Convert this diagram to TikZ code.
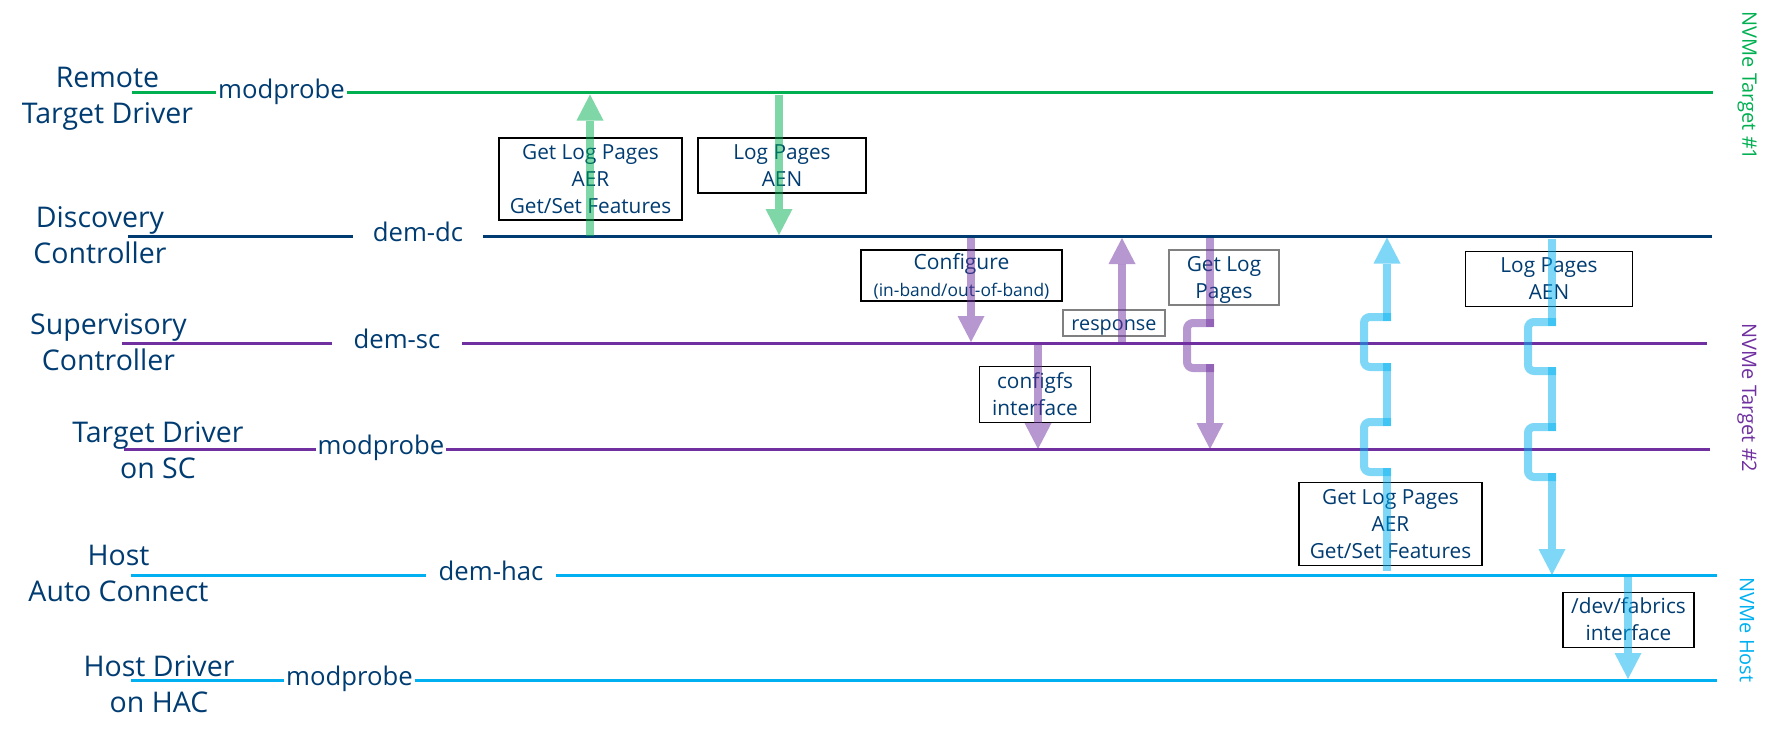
\documentclass[tikz,border=0pt]{standalone}
\usepackage{fontspec}
\setmainfont{Open Sans}
\usetikzlibrary{arrows.meta}
\definecolor{navy}{HTML}{003C71}
\definecolor{tgreen}{HTML}{00B050}
\definecolor{tpurple}{HTML}{7030A0}
\definecolor{tcyan}{HTML}{00B0F0}
\definecolor{boxgray}{HTML}{808080}
\newcommand\vs{\rule[-0.24em]{0pt}{1.2em}}
\begin{document}
\begin{tikzpicture}[x=0.5pt,y=-0.5pt,
  lanename/.style={text=navy, align=center, inner sep=0pt, font=\fontsize{14.25pt}{18pt}\selectfont},
  lanetag/.style={text=navy, inner sep=0pt, minimum width=65pt, anchor=mid, font=\fontsize{12.85pt}{15pt}\selectfont},
  lane/.style={line width=1.5pt},
  msgbox/.style={draw=black, line width=0.7pt, fill=white, text=navy, align=center, inner sep=0pt, font=\fontsize{10.4pt}{13.5pt}\selectfont},
  graybox/.style={msgbox, draw=boxgray},
  flowline/.style={line width=4pt, opacity=0.5, rounded corners=3pt},
  flow/.style={flowline, -{Triangle[width=13.5pt,length=13pt,line width=0pt]}},
  side/.style={rotate=-90, inner sep=0pt, font=\fontsize{10pt}{12pt}\selectfont}
]
\useasboundingbox (0,0) rectangle (1767,739);

% lane names
\node[lanename] (n1) at (107.5,95.5) {\vs Remote\\\vs Target Driver};
\node[lanename] (n2) at (100,235.5) {\vs Discovery\\\vs Controller};
\node[lanename] (n3) at (108.5,342.5) {\vs Supervisory\\\vs Controller};
\node[lanename] (n4) at (158,450.5) {\vs Target Driver\\\vs on SC};
\node[lanename] (n5) at (118.5,573.5) {\vs Host\\\vs Auto Connect};
\node[lanename] (n6) at (159,684.5) {\vs Host Driver\\\vs on HAC};

% lane tags
\node[lanetag] (t1) at (281.5,92.7) {modprobe};
\node[lanetag] (t2) at (418,236) {dem-dc};
\node[lanetag] (t3) at (397,343) {dem-sc};
\node[lanetag] (t4) at (381,449.5) {modprobe};
\node[lanetag] (t5) at (491,575.5) {dem-hac};
\node[lanetag] (t6) at (349.5,680) {modprobe};

% lane end points
\coordinate (l1a) at (132,92.7);   \coordinate (l1b) at (1713,92.7);
\coordinate (l2a) at (128,236);    \coordinate (l2b) at (1712,236);
\coordinate (l3a) at (122,343);    \coordinate (l3b) at (1707,343);
\coordinate (l4a) at (124,449.5);  \coordinate (l4b) at (1710,449.5);
\coordinate (l5a) at (131,575.5);  \coordinate (l5b) at (1717,575.5);
\coordinate (l6a) at (131,680);    \coordinate (l6b) at (1717,680);

\draw[lane, tgreen] (l1a) -- (t1.mid west) (t1.mid east) -- (l1b);
\draw[lane, navy] (l2a) -- (t2.mid west) (t2.mid east) -- (l2b);
\draw[lane, tpurple] (l3a) -- (t3.mid west) (t3.mid east) -- (l3b);
\draw[lane, tpurple] (l4a) -- (t4.mid west) (t4.mid east) -- (l4b);
\draw[lane, tcyan] (l5a) -- (t5.mid west) (t5.mid east) -- (l5b);
\draw[lane, tcyan] (l6a) -- (t6.mid west) (t6.mid east) -- (l6b);

% side labels
\node[side, text=tgreen] (s1) at (1747,86) {NVMe Target \#1};
\node[side, text=tpurple] (s2) at (1747,398) {NVMe Target \#2};
\node[side, text=tcyan] (s3) at (1747,630) {NVMe Host};

% message boxes
\node[msgbox, minimum width=91.5pt, minimum height=41pt] (b1) at (590.5,179) {\vs Get Log Pages\\\vs AER\\\vs Get/Set Features};
\node[msgbox, minimum width=84pt, minimum height=27.5pt] (b2) at (782,165.5) {\vs Log Pages\\\vs AEN};
\node[msgbox, minimum width=100.5pt, minimum height=25.5pt] (b3) at (961.5,275.5) {\fontsize{10.5pt}{13pt}\selectfont\vs Configure\\{\fontsize{8.7pt}{13pt}\selectfont\vs(in-band/out-of-band)}};
\node[graybox, minimum width=51pt, minimum height=13pt] (b4) at (1114,323) {\fontsize{9.9pt}{12pt}\selectfont\vs response};
\node[graybox, minimum width=55pt, minimum height=27.5pt] (b5) at (1224,277.5) {\vs Get Log\\\vs Pages};
\node[msgbox, minimum width=55.5pt, minimum height=28pt] (b6) at (1035,394.7) {\vs configfs\\\vs interface};
\node[msgbox, minimum width=83.5pt, minimum height=27.5pt] (b7) at (1549,279) {\vs Log Pages\\\vs AEN};
\node[msgbox, minimum width=91.5pt, minimum height=41.5pt] (b8) at (1390.5,523.7) {\vs Get Log Pages\\\vs AER\\\vs Get/Set Features};
\node[msgbox, minimum width=65.5pt, minimum height=27.5pt] (b9) at (1628.5,620) {\vs /dev/fabrics\\\vs interface};

% flow end points
\coordinate (f1a) at (590,236);   \coordinate (f1b) at (590,94.5);
\coordinate (f2a) at (779,94.5);  \coordinate (f2b) at (779,235);
\coordinate (f3a) at (971,237.5); \coordinate (f3b) at (971,342);
\coordinate (f4a) at (1122,343);  \coordinate (f4b) at (1122,238);
\coordinate (f5a) at (1038,344.5);\coordinate (f5b) at (1038,449);
\coordinate (f6a) at (1210,237.5);\coordinate (f6b) at (1210,449);
\coordinate (f7a) at (1387,571);  \coordinate (f7b) at (1387,237.5);
\coordinate (f8a) at (1552,239);  \coordinate (f8b) at (1552,575);
\coordinate (f9a) at (1628,577);  \coordinate (f9b) at (1628,679);

% straight flows
\draw[flow, tgreen] (f1a) -- (f1b);
\draw[flow, tgreen] (f2a) -- (f2b);
\draw[flow, tpurple] (f3a) -- (f3b);
\draw[flow, tpurple] (f4a) -- (f4b);
\draw[flow, tpurple] (f5a) -- (f5b);
\draw[flow, tcyan] (f9a) -- (f9b);

% Get Log Pages (purple) with a hop over the SC line
\draw[flowline, tpurple] (f6a) -- (1210,327);
\draw[flowline, tpurple] (1214,323) -- (1187,323) -- (1187,368) -- (1214,368);
\draw[flow, tpurple] (1210,364) -- (f6b);

% Get Log Pages / AER (cyan, up) with hops
\draw[flowline, tcyan] (f7a) -- (1387,468);
\draw[flowline, tcyan] (1391,472) -- (1364,472) -- (1364,422) -- (1391,422);
\draw[flowline, tcyan] (1387,426) -- (1387,363);
\draw[flowline, tcyan] (1391,367) -- (1364,367) -- (1364,317) -- (1391,317);
\draw[flow, tcyan] (1387,321) -- (f7b);

% Log Pages / AEN (cyan, down) with hops
\draw[flowline, tcyan] (f8a) -- (1552,326);
\draw[flowline, tcyan] (1556,322) -- (1528,322) -- (1528,371) -- (1556,371);
\draw[flowline, tcyan] (1552,367) -- (1552,431);
\draw[flowline, tcyan] (1556,427) -- (1528,427) -- (1528,477) -- (1556,477);
\draw[flow, tcyan] (1552,473) -- (f8b);
\end{tikzpicture}
\end{document}
